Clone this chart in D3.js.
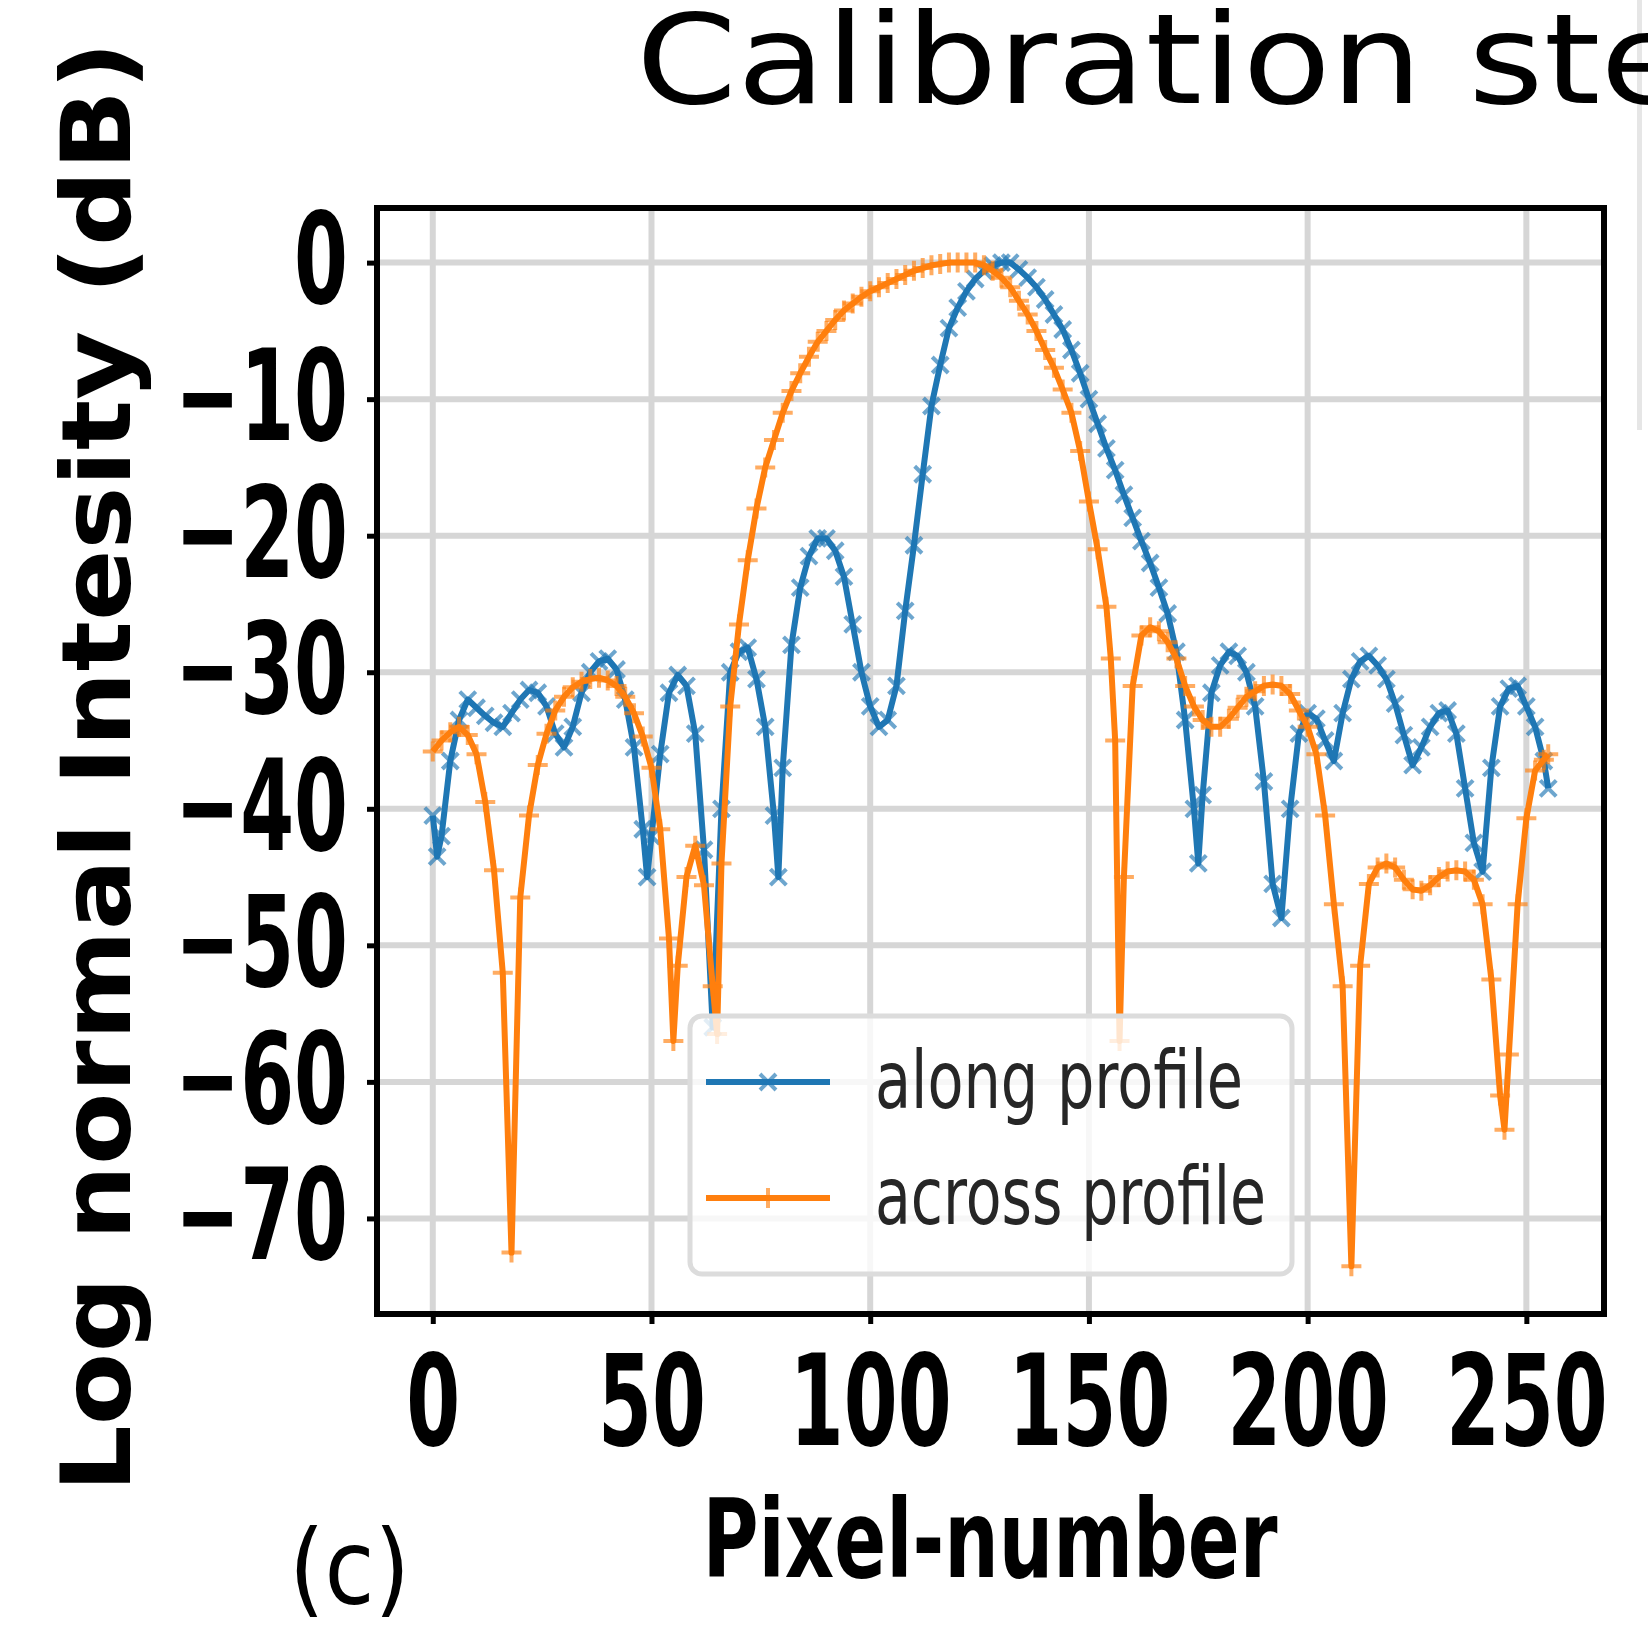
<!DOCTYPE html>
<html>
<head>
<meta charset="utf-8">
<script src="https://cdn.jsdelivr.net/npm/d3@7"></script>
<style>
  body { margin: 0; background: #fff; }
  svg { display: block; }
</style>
</head>
<body>
<script>
// tick values and legend names
var pixelTicks = [0, 50, 100, 150, 200, 250];
var dbTicks = [0, -10, -20, -30, -40, -50, -60, -70];
var seriesNames = ["along profile", "across profile"];

// along profile (blue, x markers)
var alongX = [0, 1, 2, 4, 6, 8, 10, 12, 14, 16, 18, 20, 22, 24, 26, 28, 30, 32, 34, 36, 38, 40, 42, 44, 46, 48, 49, 50, 52, 54, 56, 58, 60, 62, 64, 66, 68, 70, 72, 74, 76, 78, 79, 80, 82, 84, 86, 88, 90, 92, 94, 96, 98, 100, 102, 104, 106, 108, 110, 112, 114, 116, 118, 120, 122, 124, 126, 128, 130, 132, 134, 136, 138, 140, 142, 144, 146, 148, 150, 152, 154, 156, 158, 160, 162, 164, 166, 168, 170, 172, 174, 175, 176, 178, 180, 182, 184, 186, 188, 190, 192, 194, 196, 198, 200, 202, 204, 206, 208, 210, 212, 214, 216, 218, 220, 222, 224, 226, 228, 230, 232, 234, 236, 238, 240, 242, 244, 246, 248, 250, 252, 254, 255];
var alongDb = [-40.5, -43.5, -42, -36.5, -33.5, -32, -32.6, -33.2, -33.7, -34, -33, -32, -31.3, -31.5, -32.5, -34.5, -35.5, -34, -31.5, -30, -29.2, -29, -29.8, -32, -35.5, -41.5, -45, -42, -36, -31.5, -30.2, -31, -34.5, -43, -56, -40, -30, -28.5, -28.2, -30.5, -34, -40.5, -45, -37, -28, -23.8, -21.5, -20.2, -20.2, -21.1, -23, -26.5, -30, -32.5, -34, -33.5, -31, -25.5, -20.7, -15.5, -10.5, -7.5, -4.8, -3.3, -2.1, -1.2, -0.6, -0.2, 0, 0, -0.5, -1.1, -1.8, -2.7, -3.8, -4.9, -6.4, -8.1, -10, -11.8, -13.6, -15.2, -17, -18.7, -20.4, -22, -23.8, -25.7, -28.5, -33.5, -40, -44, -39, -31.5, -29.5, -28.5, -28.8, -30, -32.5, -38, -45.5, -48, -40, -34.5, -33, -33.4, -35, -36.5, -33, -30.5, -29.2, -28.8, -29.5, -30.5, -32.3, -34.6, -36.8, -35.5, -34, -33, -32.8, -34.5, -38.5, -42.5, -44.6, -37, -32.5, -31.2, -31, -32.5, -34, -36.5, -38.5];

// across profile (orange, + markers)
var acrossX = [0, 2, 4, 6, 8, 10, 12, 14, 16, 18, 20, 22, 24, 26, 28, 30, 32, 34, 36, 38, 40, 42, 44, 46, 48, 50, 52, 54, 55, 56, 58, 60, 62, 64, 65, 66, 68, 70, 72, 74, 76, 78, 80, 82, 84, 86, 88, 90, 92, 94, 96, 98, 100, 102, 104, 106, 108, 110, 112, 114, 116, 118, 120, 122, 124, 126, 128, 130, 132, 134, 136, 138, 140, 142, 144, 146, 148, 150, 152, 154, 155, 156, 157, 158, 160, 162, 164, 166, 168, 170, 172, 174, 176, 178, 180, 182, 184, 186, 188, 190, 192, 194, 196, 198, 200, 202, 204, 206, 208, 210, 212, 214, 216, 218, 220, 222, 224, 226, 228, 230, 232, 234, 236, 238, 240, 242, 244, 245, 246, 248, 250, 252, 254, 255];
var acrossDb = [-35.8, -35, -34.4, -34, -34.6, -36, -39.5, -44.5, -52, -72.5, -46.5, -40.5, -36.8, -34.5, -32.8, -31.8, -31.1, -30.7, -30.5, -30.4, -30.6, -31, -31.8, -33, -34.7, -37, -41.5, -49.5, -57, -51.5, -45, -42.7, -45.6, -53, -56.5, -44, -32.5, -26.5, -21.8, -18, -15, -13, -11, -9.4, -8.1, -6.9, -5.8, -5, -4.2, -3.5, -3, -2.5, -2.1, -1.8, -1.5, -1.2, -0.9, -0.6, -0.4, -0.2, -0.1, 0, 0, 0, 0, -0.2, -0.6, -1.1, -1.8, -2.8, -3.8, -5, -6.4, -7.7, -9.3, -11, -13.8, -17.5, -21, -25.2, -29, -35, -57, -45, -31, -27.3, -26.7, -27, -27.8, -29, -31, -32.5, -33.5, -34, -34, -33.4, -32.6, -31.8, -31.4, -31, -30.9, -31, -31.6, -32.8, -34, -36, -40.5, -47, -53, -73.5, -51.5, -45.5, -44.3, -44, -44.3, -45.2, -45.9, -46, -45.6, -45, -44.6, -44.5, -44.6, -45.2, -47, -52.5, -61, -63.5, -58, -47, -40.7, -37.2, -36.4, -36];

var width = 1648, height = 1628;
var frame = { left: 377, right: 1604, top: 208, bottom: 1314 };
var squeeze = 0.615; // tick labels are drawn narrow in the picture

var x = d3.scaleLinear().domain([-12.75, 267.75]).range([frame.left, frame.right]);
var y = d3.scaleLinear().domain([-77, 4]).range([frame.bottom, frame.top]);

var svg = d3.select("body").append("svg")
    .attr("width", width)
    .attr("height", height)
    .style("font-family", "'DejaVu Sans', sans-serif");

// edge of the neighbouring panel
svg.append("rect")
    .attr("x", 1637).attr("y", 0).attr("width", 5).attr("height", 430)
    .style("fill", "#e6e6e6");

// title, cut by the right edge like in the picture
svg.append("text")
    .attr("x", 636).attr("y", 103)
    .attr("textLength", 1145)
    .attr("lengthAdjust", "spacingAndGlyphs")
    .style("font-size", "124px")
    .text("Calibration step");

// grid
var grid = svg.append("g").attr("class", "grid");
grid.selectAll("line.v").data(pixelTicks).enter().append("line")
    .attr("class", "v")
    .attr("x1", function (d) { return x(d); }).attr("x2", function (d) { return x(d); })
    .attr("y1", frame.top).attr("y2", frame.bottom)
    .style("stroke", "#d6d6d6").style("stroke-width", 6);
grid.selectAll("line.h").data(dbTicks).enter().append("line")
    .attr("class", "h")
    .attr("x1", frame.left).attr("x2", frame.right)
    .attr("y1", function (d) { return y(d); }).attr("y2", function (d) { return y(d); })
    .style("stroke", "#d6d6d6").style("stroke-width", 6);

// series
var line = d3.line()
    .x(function (d) { return x(d[0]); })
    .y(function (d) { return y(d[1]); });

var crossPath = "M-8,-8L8,8M-8,8L8,-8";
var plusPath = "M-10,0H10M0,-10V10";

var series = [
    { name: seriesNames[0], color: "#1f77b4", marker: crossPath, pts: d3.zip(alongX, alongDb) },
    { name: seriesNames[1], color: "#ff7f0e", marker: plusPath, pts: d3.zip(acrossX, acrossDb) }
];

series.forEach(function (s) {
    var g = svg.append("g").attr("class", "series");
    g.append("path")
        .datum(s.pts)
        .attr("d", line)
        .style("fill", "none")
        .style("stroke", s.color)
        .style("stroke-width", 6)
        .style("stroke-linejoin", "round");
    g.selectAll("path.m").data(s.pts).enter().append("path")
        .attr("class", "m")
        .attr("transform", function (d) { return "translate(" + x(d[0]) + "," + y(d[1]) + ")"; })
        .attr("d", s.marker)
        .style("fill", "none")
        .style("stroke", s.color)
        .style("stroke-width", 4)
        .style("opacity", 0.65);
});

// legend
var legend = svg.append("g").attr("class", "legend");
legend.append("rect")
    .attr("x", 690).attr("y", 1016).attr("width", 602).attr("height", 258).attr("rx", 12)
    .style("fill", "#fff").style("fill-opacity", 0.8)
    .style("stroke", "#dcdcdc").style("stroke-width", 5);

var legendRows = [1082, 1198];
var legendLens = [368, 391];
series.forEach(function (s, i) {
    var ly = legendRows[i];
    legend.append("line")
        .attr("x1", 706).attr("x2", 830).attr("y1", ly).attr("y2", ly)
        .style("stroke", s.color).style("stroke-width", 6);
    legend.append("path")
        .attr("transform", "translate(768," + ly + ")")
        .attr("d", s.marker)
        .style("fill", "none").style("stroke", s.color)
        .style("stroke-width", 4).style("opacity", 0.65);
    legend.append("text")
        .attr("x", 875).attr("y", ly + 26)
        .attr("textLength", legendLens[i])
        .attr("lengthAdjust", "spacingAndGlyphs")
        .style("font-size", "80px")
        .style("fill", "#262626")
        .text(s.name);
});

// frame
svg.append("rect")
    .attr("x", frame.left).attr("y", frame.top)
    .attr("width", frame.right - frame.left).attr("height", frame.bottom - frame.top)
    .style("fill", "none").style("stroke", "#000").style("stroke-width", 6);

// axes
var xAxis = svg.append("g")
    .attr("transform", "translate(0," + frame.bottom + ")")
    .call(d3.axisBottom(x).tickValues(pixelTicks).tickSize(10).tickPadding(32));
var yAxis = svg.append("g")
    .attr("transform", "translate(" + frame.left + ",0)")
    .call(d3.axisLeft(y).tickValues(dbTicks).tickSize(10).tickPadding(19));

[xAxis, yAxis].forEach(function (ax) {
    ax.select(".domain").remove();
    ax.selectAll(".tick line").style("stroke", "#000").style("stroke-width", 5);
    ax.selectAll(".tick text")
        .style("font-family", "'DejaVu Sans', sans-serif")
        .style("font-size", "126px")
        .style("font-weight", "bold")
        .style("fill", "#000")
        .attr("transform", "scale(" + squeeze + ",1)");
});
yAxis.selectAll(".tick text").attr("x", -29 / squeeze);

// axis labels
svg.append("text")
    .attr("x", 990).attr("y", 1577)
    .attr("text-anchor", "middle")
    .attr("textLength", 575)
    .attr("lengthAdjust", "spacingAndGlyphs")
    .style("font-size", "108px")
    .style("font-weight", "bold")
    .text("Pixel-number");

svg.append("text")
    .attr("transform", "translate(130,767) rotate(-90)")
    .attr("text-anchor", "middle")
    .attr("textLength", 1451)
    .attr("lengthAdjust", "spacingAndGlyphs")
    .style("font-size", "96px")
    .style("font-weight", "bold")
    .text("Log normal Intesity (dB)");

svg.append("text")
    .attr("x", 289).attr("y", 1604)
    .attr("textLength", 121)
    .attr("lengthAdjust", "spacingAndGlyphs")
    .style("font-size", "104px")
    .text("(c)");
</script>
</body>
</html>
